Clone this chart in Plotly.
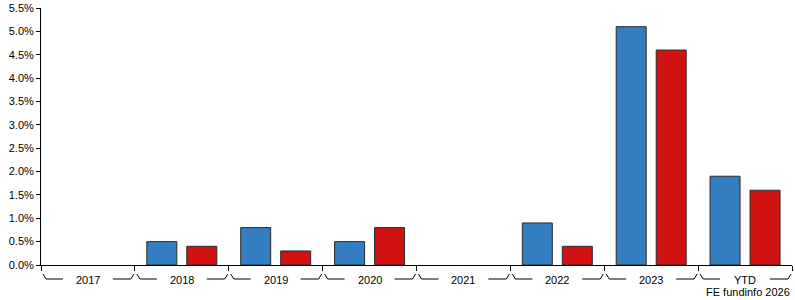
import plotly.graph_objects as go

categories = ["2017", "2018", "2019", "2020", "2021", "2022", "2023", "YTD"]
series_a = [None, 0.5, 0.8, 0.5, None, 0.9, 5.1, 1.9]
series_b = [None, 0.4, 0.3, 0.8, None, 0.4, 4.6, 1.6]
y_ticks = [i * 0.5 for i in range(12)]

positions = list(range(len(categories)))
boundaries = [i - 0.5 for i in range(len(categories) + 1)]

fig = go.Figure()
fig.add_trace(go.Bar(x=positions, y=series_a, marker=dict(color="#337dc0", line=dict(color="#2a2a2a", width=1))))
fig.add_trace(go.Bar(x=positions, y=series_b, marker=dict(color="#d01212", line=dict(color="#2a2a2a", width=1))))

font = dict(family="Liberation Sans, Arial, sans-serif", size=11, color="#000")

shapes = []
annotations = []
for i, c in enumerate(categories):
    L, R = i - 0.5, i + 0.5
    line = dict(color="#000", width=1)
    common = dict(type="line", xref="x", yref="paper", xsizemode="pixel", ysizemode="pixel", yanchor=0, line=line)
    shapes.append(dict(common, xanchor=L, x0=2, x1=5, y0=-9, y1=-14))
    shapes.append(dict(common, xanchor=L, x0=5, x1=22, y0=-14, y1=-14))
    shapes.append(dict(common, xanchor=R, x0=-22, x1=-4, y0=-14, y1=-14))
    shapes.append(dict(common, xanchor=R, x0=-4, x1=-1, y0=-14, y1=-9))
    annotations.append(dict(x=i, xref="x", y=0, yref="paper", yanchor="middle", yshift=-15,
                            text=c, showarrow=False, font=font))

annotations.append(dict(x=1, xref="paper", xanchor="right", y=0, yref="paper", yanchor="middle",
                        yshift=-27, text="FE fundinfo 2026", showarrow=False, font=font))

fig.update_layout(
    width=795, height=300,
    margin=dict(l=41, r=3, t=8, b=35),
    plot_bgcolor="white", paper_bgcolor="white",
    barmode="group", bargap=0.148, bargroupgap=0.25,
    showlegend=False,
    font=font,
    shapes=shapes,
    annotations=annotations,
    xaxis=dict(range=[-0.5, len(categories) - 0.5], tickvals=boundaries, showticklabels=False,
               ticks="outside", ticklen=5, tickcolor="#000", showline=True, linecolor="#000",
               linewidth=1, showgrid=False, zeroline=False),
    yaxis=dict(range=[0, 5.5], tickvals=y_ticks, ticktext=[f"{v:.1f}%" for v in y_ticks],
               ticks="outside", ticklen=4, tickcolor="#000", showline=True, linecolor="#000",
               linewidth=1, showgrid=False, zeroline=False),
)

fig.write_html("out.html")
